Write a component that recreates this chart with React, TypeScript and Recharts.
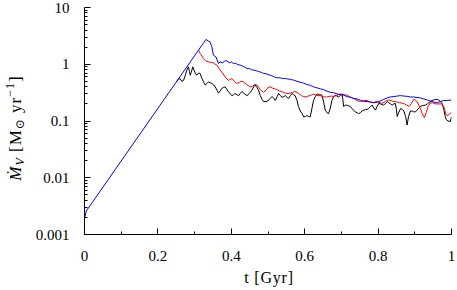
import React from 'react';
import { LineChart, Line, XAxis, YAxis, Label } from 'recharts';

// ---- data (t in Gyr, value in Msun/yr) ----
const blueT = [0, 0.005, 0.331, 0.338, 0.342, 0.347, 0.351, 0.358, 0.365, 0.37, 0.376, 0.381, 0.388, 0.394, 0.4, 0.406, 0.412, 0.418, 0.424, 0.43, 0.436, 0.443, 0.45, 0.455, 0.461, 0.468, 0.475, 0.482, 0.488, 0.495, 0.503, 0.51, 0.517, 0.524, 0.533, 0.542, 0.551, 0.561, 0.57, 0.579, 0.588, 0.597, 0.606, 0.615, 0.624, 0.633, 0.642, 0.652, 0.661, 0.67, 0.679, 0.688, 0.697, 0.706, 0.715, 0.724, 0.733, 0.742, 0.752, 0.761, 0.77, 0.779, 0.788, 0.797, 0.806, 0.815, 0.824, 0.833, 0.843, 0.852, 0.861, 0.87, 0.879, 0.888, 0.897, 0.906, 0.915, 0.924, 0.934, 0.943, 0.952, 0.961, 0.97, 0.979, 0.988, 1.0];
const blueV = [0.0019, 0.0026, 2.74, 2.55, 2.49, 2.03, 1.45, 1.35, 1.03, 1.1, 1.05, 1.14, 1.15, 1.06, 1.1, 1.03, 1.04, 0.98, 0.97, 0.93, 0.9, 0.84, 0.84, 0.8, 0.79, 0.77, 0.74, 0.72, 0.69, 0.68, 0.65, 0.63, 0.6, 0.58, 0.575, 0.56, 0.555, 0.54, 0.525, 0.5, 0.48, 0.465, 0.44, 0.425, 0.4, 0.385, 0.37, 0.355, 0.335, 0.32, 0.315, 0.3, 0.29, 0.285, 0.27, 0.262, 0.25, 0.245, 0.232, 0.222, 0.22, 0.215, 0.21, 0.215, 0.225, 0.24, 0.255, 0.265, 0.27, 0.275, 0.28, 0.275, 0.272, 0.265, 0.265, 0.26, 0.255, 0.245, 0.235, 0.225, 0.215, 0.21, 0.22, 0.23, 0.23, 0.235];

const redT = [0.311, 0.315, 0.32, 0.324, 0.33, 0.338, 0.344, 0.351, 0.356, 0.361, 0.366, 0.37, 0.376, 0.383, 0.388, 0.392, 0.397, 0.402, 0.408, 0.415, 0.42, 0.426, 0.433, 0.44, 0.446, 0.452, 0.458, 0.464, 0.47, 0.476, 0.482, 0.488, 0.495, 0.5, 0.506, 0.512, 0.518, 0.524, 0.53, 0.536, 0.542, 0.548, 0.555, 0.561, 0.567, 0.573, 0.579, 0.585, 0.591, 0.597, 0.603, 0.609, 0.615, 0.62, 0.624, 0.63, 0.636, 0.642, 0.648, 0.654, 0.66, 0.666, 0.672, 0.679, 0.685, 0.691, 0.697, 0.703, 0.709, 0.715, 0.721, 0.727, 0.733, 0.74, 0.746, 0.752, 0.758, 0.764, 0.77, 0.776, 0.782, 0.788, 0.794, 0.8, 0.806, 0.811, 0.817, 0.823, 0.829, 0.835, 0.841, 0.847, 0.853, 0.859, 0.866, 0.872, 0.878, 0.884, 0.89, 0.895, 0.9, 0.906, 0.911, 0.916, 0.92, 0.926, 0.931, 0.936, 0.941, 0.948, 0.956, 0.965, 0.974, 0.98, 0.985, 0.99, 0.995, 1.0];
const redV = [1.78, 1.55, 1.4, 1.26, 1.15, 1.1, 1.08, 1.06, 1.0, 0.96, 0.85, 0.79, 0.7, 0.6, 0.55, 0.52, 0.54, 0.56, 0.5, 0.46, 0.47, 0.5, 0.49, 0.45, 0.42, 0.4, 0.41, 0.44, 0.43, 0.38, 0.34, 0.32, 0.35, 0.39, 0.4, 0.38, 0.37, 0.36, 0.34, 0.33, 0.32, 0.31, 0.305, 0.31, 0.32, 0.33, 0.32, 0.3, 0.28, 0.27, 0.265, 0.275, 0.28, 0.29, 0.3, 0.29, 0.28, 0.28, 0.27, 0.265, 0.265, 0.27, 0.275, 0.27, 0.28, 0.29, 0.3, 0.295, 0.29, 0.285, 0.27, 0.26, 0.25, 0.235, 0.225, 0.22, 0.225, 0.23, 0.23, 0.22, 0.215, 0.21, 0.22, 0.215, 0.21, 0.205, 0.215, 0.23, 0.235, 0.23, 0.22, 0.22, 0.215, 0.21, 0.205, 0.2, 0.19, 0.18, 0.2, 0.23, 0.24, 0.22, 0.19, 0.16, 0.135, 0.115, 0.14, 0.18, 0.205, 0.21, 0.2, 0.2, 0.2, 0.17, 0.13, 0.125, 0.135, 0.14];

const blackT = [0.251, 0.256, 0.26, 0.265, 0.27, 0.275, 0.279, 0.283, 0.286, 0.288, 0.291, 0.295, 0.298, 0.302, 0.306, 0.311, 0.315, 0.32, 0.325, 0.329, 0.334, 0.338, 0.343, 0.347, 0.352, 0.356, 0.361, 0.365, 0.37, 0.374, 0.379, 0.383, 0.388, 0.392, 0.397, 0.402, 0.406, 0.41, 0.415, 0.42, 0.425, 0.429, 0.436, 0.443, 0.45, 0.456, 0.461, 0.465, 0.47, 0.474, 0.479, 0.484, 0.488, 0.495, 0.501, 0.506, 0.511, 0.516, 0.52, 0.525, 0.529, 0.534, 0.538, 0.543, 0.547, 0.552, 0.556, 0.561, 0.565, 0.57, 0.574, 0.579, 0.583, 0.588, 0.593, 0.597, 0.602, 0.606, 0.611, 0.615, 0.62, 0.624, 0.629, 0.634, 0.64, 0.647, 0.652, 0.656, 0.661, 0.665, 0.67, 0.674, 0.679, 0.683, 0.688, 0.692, 0.697, 0.702, 0.704, 0.706, 0.711, 0.715, 0.72, 0.724, 0.729, 0.733, 0.738, 0.743, 0.747, 0.752, 0.756, 0.761, 0.766, 0.77, 0.774, 0.779, 0.784, 0.788, 0.793, 0.797, 0.802, 0.806, 0.811, 0.815, 0.82, 0.825, 0.829, 0.834, 0.838, 0.843, 0.847, 0.85, 0.852, 0.856, 0.861, 0.866, 0.87, 0.875, 0.879, 0.883, 0.888, 0.893, 0.897, 0.902, 0.906, 0.911, 0.915, 0.92, 0.925, 0.929, 0.934, 0.938, 0.943, 0.947, 0.952, 0.956, 0.961, 0.965, 0.97, 0.975, 0.979, 0.983, 0.986, 0.991, 0.997, 1.0];
const blackV = [0.49, 0.55, 0.56, 0.5, 0.52, 0.65, 0.79, 0.9, 0.75, 0.64, 0.72, 0.9, 0.8, 0.69, 0.64, 0.7, 0.69, 0.56, 0.48, 0.43, 0.46, 0.49, 0.47, 0.46, 0.43, 0.4, 0.35, 0.31, 0.34, 0.375, 0.39, 0.4, 0.36, 0.33, 0.3, 0.28, 0.29, 0.305, 0.29, 0.28, 0.31, 0.33, 0.3, 0.28, 0.31, 0.35, 0.4, 0.43, 0.39, 0.35, 0.28, 0.24, 0.22, 0.22, 0.23, 0.25, 0.27, 0.25, 0.23, 0.27, 0.305, 0.28, 0.26, 0.27, 0.28, 0.26, 0.25, 0.28, 0.305, 0.29, 0.28, 0.23, 0.18, 0.15, 0.135, 0.118, 0.12, 0.125, 0.12, 0.118, 0.17, 0.23, 0.27, 0.3, 0.29, 0.285, 0.21, 0.155, 0.14, 0.135, 0.17, 0.23, 0.27, 0.285, 0.275, 0.265, 0.28, 0.3, 0.24, 0.18, 0.19, 0.19, 0.185, 0.18, 0.165, 0.155, 0.145, 0.14, 0.135, 0.14, 0.15, 0.155, 0.16, 0.16, 0.165, 0.18, 0.19, 0.17, 0.155, 0.18, 0.205, 0.2, 0.195, 0.19, 0.205, 0.22, 0.21, 0.2, 0.19, 0.2, 0.205, 0.16, 0.12, 0.14, 0.165, 0.16, 0.15, 0.12, 0.085, 0.12, 0.15, 0.15, 0.145, 0.145, 0.155, 0.17, 0.18, 0.185, 0.19, 0.19, 0.2, 0.21, 0.22, 0.23, 0.235, 0.24, 0.24, 0.235, 0.22, 0.2, 0.16, 0.12, 0.105, 0.1, 0.098, 0.118];

const xTicks = [0, 0.1, 0.2, 0.3, 0.4, 0.5, 0.6, 0.7, 0.8, 0.9, 1];
const xMajor = [0, 0.2, 0.4, 0.6, 0.8, 1];
const xLabels = ['0', '0.2', '0.4', '0.6', '0.8', '1'];
const yMajor = [0.001, 0.01, 0.1, 1, 10];
const yLabels = ['0.001', '0.01', '0.1', '1', '10'];
const yMinorMult = [2, 3, 4, 5, 6, 7, 8, 9];

const toRows = (ts: number[], vs: number[]) => ts.map((t, i) => ({ t, v: vs[i] }));
const blueData = toRows(blueT, blueV);
const redData = toRows(redT, redV);
const blackData = toRows(blackT, blackV);

const yTicks: number[] = [];
yMajor.forEach((m, i) => {
  yTicks.push(m);
  if (i < yMajor.length - 1) yMinorMult.forEach((k) => yTicks.push(+(m * k).toPrecision(3)));
});

const FONT = "'Liberation Serif', 'DejaVu Serif', serif";
const TXT: React.CSSProperties = { fontFamily: FONT, fontSize: 15, fill: '#000' };
const MAJ = 6;
const MIN = 3;
const snap = (v: number) => Math.round(v - 0.5) + 0.5;

const xMajorIdx = (v: number) => xMajor.findIndex((m) => Math.abs(m - v) < 1e-9);
const yMajorIdx = (v: number) => yMajor.findIndex((m) => Math.abs(m - v) / m < 1e-6);

const XBottomTick = (p: any) => {
  const i = xMajorIdx(p.payload.value);
  const len = i >= 0 ? MAJ : MIN;
  const x = snap(Number(p.x));
  const y = Number(p.y);
  return (
    <g>
      <path d={`M${x},${y}V${y - len}`} stroke="#000" strokeWidth={1} fill="none" />
      {i >= 0 && (
        <text x={Number(p.x)} y={y + 26} textAnchor="middle" style={TXT}>
          {xLabels[i]}
        </text>
      )}
    </g>
  );
};
const XTopTick = (p: any) => {
  const i = xMajorIdx(p.payload.value);
  const len = i >= 0 ? MAJ : MIN;
  const x = snap(Number(p.x));
  const y = Number(p.y);
  return <path d={`M${x},${y}V${y + len}`} stroke="#000" strokeWidth={1} fill="none" />;
};
const YLeftTick = (p: any) => {
  const i = yMajorIdx(p.payload.value);
  const len = i >= 0 ? MAJ : MIN;
  const x = Number(p.x);
  const y = snap(Number(p.y));
  return (
    <g>
      <path d={`M${x},${y}H${x + len}`} stroke="#000" strokeWidth={1} fill="none" />
      {i >= 0 && (
        <text x={x - 15} y={Number(p.y) + 5} textAnchor="end" style={TXT}>
          {yLabels[i]}
        </text>
      )}
    </g>
  );
};
const YRightTick = (p: any) => {
  const i = yMajorIdx(p.payload.value);
  const len = i >= 0 ? MAJ : MIN;
  const x = Number(p.x);
  const y = snap(Number(p.y));
  return <path d={`M${x},${y}H${x - len}`} stroke="#000" strokeWidth={1} fill="none" />;
};

const YTitle = (props: any) => {
  const vb = props.viewBox || { x: 0, y: 7.5, width: 84, height: 227 };
  const cx = 20.5;
  const cy = vb.y + vb.height / 2 + 7;
  return (
    <text
      x={cx}
      y={cy}
      transform={`rotate(-90, ${cx}, ${cy})`}
      textAnchor="middle"
      style={{ ...TXT, fontSize: 17, letterSpacing: 1 }}
    >
      <tspan fontStyle="italic">Ṁ</tspan>
      <tspan fontStyle="italic" fontSize={12} dy={3}>V</tspan>
      <tspan dy={-3}> [M</tspan>
      <tspan fontSize={12} dy={3}>⊙</tspan>
      <tspan dy={-3}> yr</tspan>
      <tspan fontSize={12} dy={-7}>−1</tspan>
      <tspan dy={7}>]</tspan>
    </text>
  );
};

const XTitle = (props: any) => {
  const vb = props.viewBox || { x: 84.5, y: 234.5, width: 367, height: 55.5 };
  return (
    <text
      x={vb.x + vb.width / 2 + 1}
      y={vb.y + 48}
      textAnchor="middle"
      style={{ ...TXT, fontSize: 16, letterSpacing: 0.8 }}
    >
      t [Gyr]
    </text>
  );
};

export default function App() {
  return (
    <div style={{ position: 'absolute', left: 0, top: 0, background: '#fff', fontFamily: FONT }}>
      <LineChart width={457} height={290} margin={{ top: 7.5, right: 5.5, bottom: 0, left: 0.5 }}>
        <XAxis
          xAxisId="b"
          dataKey="t"
          type="number"
          domain={[0, 1]}
          ticks={xTicks}
          interval={0}
          height={55.5}
          tickSize={0}
          tickMargin={0}
          tickLine={false}
          tick={XBottomTick}
          axisLine={{ stroke: '#000', strokeWidth: 1 }}
          allowDataOverflow
        >
          <Label content={XTitle} />
        </XAxis>
        <XAxis
          xAxisId="top"
          orientation="top"
          dataKey="t"
          type="number"
          domain={[0, 1]}
          ticks={xTicks}
          interval={0}
          height={0}
          tickSize={0}
          tickMargin={0}
          tickLine={false}
          tick={XTopTick}
          axisLine={{ stroke: '#000', strokeWidth: 1 }}
          allowDataOverflow
        />
        <YAxis
          yAxisId="l"
          type="number"
          scale="log"
          domain={[0.001, 10]}
          ticks={yTicks}
          interval={0}
          width={84}
          tickSize={0}
          tickMargin={0}
          tickLine={false}
          tick={YLeftTick}
          axisLine={{ stroke: '#000', strokeWidth: 1 }}
          allowDataOverflow
        >
          <Label content={YTitle} />
        </YAxis>
        <YAxis
          yAxisId="r"
          orientation="right"
          type="number"
          scale="log"
          domain={[0.001, 10]}
          ticks={yTicks}
          interval={0}
          width={0}
          tickSize={0}
          tickMargin={0}
          tickLine={false}
          tick={YRightTick}
          axisLine={{ stroke: '#000', strokeWidth: 1 }}
          allowDataOverflow
        />
        <Line xAxisId="b" yAxisId="l" data={blackData} dataKey="v" type="linear" stroke="#000" strokeWidth={1} dot={false} isAnimationActive={false} />
        <Line xAxisId="b" yAxisId="l" data={redData} dataKey="v" type="linear" stroke="#ff0000" strokeWidth={1} dot={false} isAnimationActive={false} />
        <Line xAxisId="b" yAxisId="l" data={blueData} dataKey="v" type="linear" stroke="#0000ff" strokeWidth={1} dot={false} isAnimationActive={false} />
      </LineChart>
    </div>
  );
}
